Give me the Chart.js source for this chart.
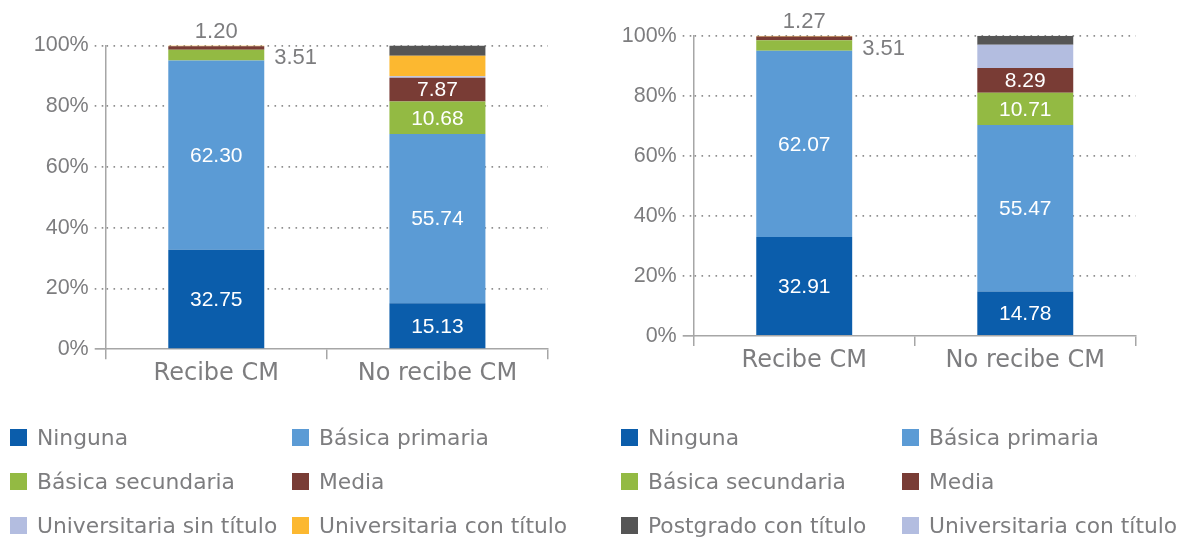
<!DOCTYPE html>
<html>
<head>
<meta charset="utf-8">
<script src="https://cdn.jsdelivr.net/npm/chart.js@4/dist/chart.umd.min.js"></script>
<style>
  html, body { margin: 0; padding: 0; background: #ffffff; }
  body { width: 1179px; height: 539px; position: relative; overflow: hidden; }
  .panel { position: absolute; top: 0; width: 590px; height: 400px; }
  .panel canvas { display: block; }
  .legend { position: absolute; top: 0; left: 0; width: 1179px; height: 539px; pointer-events: none; }
  .item { position: absolute; height: 26px; display: flex; align-items: center;
          font-family: "DejaVu Sans", sans-serif; font-size: 21.8px; color: #7d7d7f; white-space: nowrap; }
  .sw { width: 17px; height: 17px; margin-right: 10px; flex: none; }
</style>
</head>
<body>
<div class="panel" style="left:0"><canvas id="left" width="590" height="400"></canvas></div>
<div class="panel" style="left:590px"><canvas id="right" width="589" height="400"></canvas></div>
<div class="legend" id="legend"></div>
<script>
// Categories and axis ticks
const categories = ['Recibe CM', 'No recibe CM'];
const tickValues = [0, 20, 40, 60, 80, 100];

// Left panel: education level shares (%)
const leftNinguna     = [32.75, 15.13];
const leftPrimaria    = [62.30, 55.74];
const leftSecundaria  = [3.51, 10.68];
const leftMedia       = [1.20, 7.87];
const leftUnivSin     = [0.00, 0.45];
const leftUnivCon     = [0.24, 6.73];
const leftPostgrado   = [0.00, 3.40];

// Right panel: education level shares (%)
const rightNinguna    = [32.91, 14.78];
const rightPrimaria   = [62.07, 55.47];
const rightSecundaria = [3.51, 10.71];
const rightMedia      = [1.27, 8.29];
const rightUnivSin    = [0.24, 0.00];
const rightUnivCon    = [0.00, 7.75];
const rightPostgrado  = [0.00, 3.00];

// Legend entries shown under each panel
const leftLegend  = ['Ninguna', 'Básica primaria', 'Básica secundaria', 'Media', 'Universitaria sin título', 'Universitaria con título'];
const rightLegend = ['Ninguna', 'Básica primaria', 'Básica secundaria', 'Media', 'Postgrado con título', 'Universitaria con título'];

const C = {
  ninguna: '#0b5dab', primaria: '#5b9bd5', secundaria: '#93ba43', media: '#793c35',
  lavender: '#b3bde0', yellow: '#fcb830', gray: '#555555'
};
const TEXT = '#7d7d7f';
const NUM_FONT = '"Liberation Sans", Arial, sans-serif';
const DOTS = [1.6, 5.4];

function ds(label, data, color, extra) {
  return Object.assign({ label, data, backgroundColor: color, borderWidth: 0,
    barPercentage: 0.434, categoryPercentage: 1.0 }, extra || {});
}

const leftSets = [
  ds('Ninguna', leftNinguna, C.ninguna, { showValue: true }),
  ds('Básica primaria', leftPrimaria, C.primaria, { showValue: true }),
  ds('Básica secundaria', leftSecundaria, C.secundaria, { showValue: true, outside: 'right' }),
  ds('Media', leftMedia, C.media, { showValue: true, outside: 'top' }),
  ds('Universitaria sin título', leftUnivSin, C.lavender),
  ds('Universitaria con título', leftUnivCon, C.yellow),
  ds('Postgrado con título', leftPostgrado, C.gray)
];
const rightSets = [
  ds('Ninguna', rightNinguna, C.ninguna, { showValue: true }),
  ds('Básica primaria', rightPrimaria, C.primaria, { showValue: true }),
  ds('Básica secundaria', rightSecundaria, C.secundaria, { showValue: true, outside: 'right' }),
  ds('Media', rightMedia, C.media, { showValue: true, outside: 'top' }),
  ds('Universitaria sin título', rightUnivSin, C.yellow),
  ds('Universitaria con título', rightUnivCon, C.lavender),
  ds('Postgrado con título', rightPostgrado, C.gray)
];

// Writes the value of each labelled segment: white inside, grey beside small ones
const valueLabels = {
  id: 'valueLabels',
  afterDatasetsDraw(chart) {
    const ctx = chart.ctx;
    ctx.save();
    chart.data.datasets.forEach((set, di) => {
      if (!set.showValue) return;
      const meta = chart.getDatasetMeta(di);
      meta.data.forEach((bar, i) => {
        const v = set.data[i];
        if (!v) return;
        const txt = v.toFixed(2);
        const { x, y, base, width } = bar.getProps(['x', 'y', 'base', 'width'], true);
        ctx.textBaseline = 'middle';
        if (v < 5 && set.outside === 'right') {
          ctx.font = '22px ' + NUM_FONT;
          ctx.fillStyle = TEXT; ctx.textAlign = 'left';
          ctx.fillText(txt, x + width / 2 + 10, (y + base) / 2 + 3);
        } else if (v < 5 && set.outside === 'top') {
          ctx.font = '22px ' + NUM_FONT;
          ctx.fillStyle = TEXT; ctx.textAlign = 'center';
          ctx.fillText(txt, x, chart.scales.y.getPixelForValue(100) - 14);
        } else {
          ctx.font = '21px ' + NUM_FONT;
          ctx.fillStyle = '#ffffff'; ctx.textAlign = 'center';
          ctx.fillText(txt, x, (y + base) / 2 + 1);
        }
      });
    });
    ctx.restore();
  }
};

const isZero = (c) => c.tick && c.tick.value === 0;

function makeChart(id, sets, geo) {
  return new Chart(document.getElementById(id), {
    type: 'bar',
    data: { labels: categories, datasets: sets },
    options: {
      responsive: false,
      animation: false,
      layout: { padding: { top: geo.top, right: geo.right, left: 0, bottom: 0 } },
      plugins: { legend: { display: false }, tooltip: { enabled: false } },
      scales: {
        x: {
          stacked: true,
          offset: true,
          afterFit(scale) { scale.height = geo.xHeight; },
          border: { display: true, color: '#a6a6a6', width: 1.5 },
          grid: { display: true, drawOnChartArea: false, drawTicks: true, tickLength: 10,
                  color: '#a6a6a6', lineWidth: 1.5, offset: true },
          ticks: { color: TEXT, padding: 0, font: { family: '"DejaVu Sans", sans-serif', size: 24 } }
        },
        y: {
          stacked: true,
          min: 0, max: 100,
          afterFit(scale) { scale.width = geo.yWidth; },
          afterBuildTicks(scale) { scale.ticks = tickValues.map(v => ({ value: v })); },
          border: { display: true, color: '#a6a6a6', width: 1.5,
                    dash: (c) => isZero(c) ? [] : DOTS },
          grid: {
            color: (c) => isZero(c) ? 'rgba(0,0,0,0)' : '#8f8f8f',
            lineWidth: 1.7,
            tickLength: 11,
            tickColor: (c) => isZero(c) ? '#a6a6a6' : '#8f8f8f',
            tickBorderDash: (c) => isZero(c) ? [] : DOTS,
            tickWidth: 1.7
          },
          ticks: { color: TEXT, padding: 6, font: { family: NUM_FONT, size: 21.5 },
                   callback: (v) => v + '%' }
        }
      }
    },
    plugins: [valueLabels]
  });
}

makeChart('left', leftSets, { top: 45.5, right: 42, yWidth: 105.7, xHeight: 50.8 });
makeChart('right', rightSets, { top: 35.7, right: 43.2, yWidth: 103.7, xHeight: 64.1 });

// Legends built from the dataset labels and colours
function buildLegend(sets, names, colX) {
  const host = document.getElementById('legend');
  const rowsY = [437, 481, 525];
  names.forEach((name, k) => {
    const set = sets.find(s => s.label === name);
    const el = document.createElement('div');
    el.className = 'item';
    el.style.left = colX[k % 2] + 'px';
    el.style.top = (rowsY[Math.floor(k / 2)] - 13) + 'px';
    const sw = document.createElement('span');
    sw.className = 'sw';
    sw.style.background = set.backgroundColor;
    el.appendChild(sw);
    el.appendChild(document.createTextNode(name));
    host.appendChild(el);
  });
}
buildLegend(leftSets, leftLegend, [10, 292]);
buildLegend(rightSets, rightLegend, [621, 902]);
</script>
</body>
</html>
